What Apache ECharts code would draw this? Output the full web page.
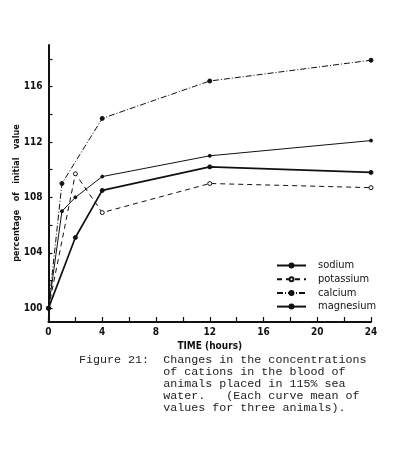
<!DOCTYPE html>
<html>
<head>
<meta charset="utf-8">
<script src="https://cdn.jsdelivr.net/npm/echarts@6/dist/echarts.min.js"></script>
<style>
  html, body { margin: 0; padding: 0; background: #fff; }
  #chart { width: 399px; height: 470px; }
</style>
</head>
<body>
<div id="chart"></div>
<script>
// time points (hours)
const times = [0, 1, 2, 4, 12, 24]
// percentage of initial value, null where no point
const sodium = [100, 107.0, 108.0, 109.5, 111.0, 112.1]
const potassium = [100, null, 109.7, 106.9, 109.0, 108.7]
const calcium = [100, 109.0, null, 113.7, 116.4, 117.9]
const magnesium = [100, null, 105.1, 108.5, 110.2, 109.8]

const yTicks = [100, 102, 104, 106, 108, 110, 112, 114, 116, 118]
const yLabels = [100, 104, 108, 112, 116]
const xTicks = [0, 2, 4, 6, 8, 10, 12, 14, 16, 18, 20, 22, 24]
const xLabels = [0, 4, 8, 12, 16, 20, 24]

const caption = [
  'Figure 21:  Changes in the concentrations',
  '            of cations in the blood of',
  '            animals placed in 115% sea',
  '            water.   (Each curve mean of',
  '            values for three animals).'
]

const toPairs = vals => times.map((t, i) => [t, vals[i]]).filter(p => p[1] !== null)

const axisFont = {
  color: '#111',
  fontFamily: 'DejaVu Sans Condensed',
  fontWeight: 'bold',
  fontSize: 10
}

const mkSeries = (name, vals, lineType, width, symbolFill, symbolSize) => ({
  name,
  type: 'line',
  data: toPairs(vals),
  symbol: 'circle',
  symbolSize,
  lineStyle: { color: '#111', width, type: lineType },
  itemStyle: { color: symbolFill, borderColor: '#111', borderWidth: 1 },
  emphasis: { disabled: true },
  animation: false
})

const chart = echarts.init(document.getElementById('chart'))
chart.setOption({
  backgroundColor: '#fff',
  animation: false,
  grid: { left: 48.5, right: 28, top: 45, bottom: 148 },
  xAxis: {
    type: 'value',
    min: 0,
    max: 24,
    name: 'TIME (hours)',
    nameLocation: 'middle',
    nameGap: 17,
    nameTextStyle: { ...axisFont, fontSize: 10 },
    axisLine: { lineStyle: { color: '#111', width: 2 } },
    axisTick: { inside: true, length: 5, customValues: xTicks, lineStyle: { color: '#111', width: 1.2 } },
    axisLabel: { ...axisFont, margin: 5, customValues: xLabels },
    splitLine: { show: false }
  },
  yAxis: {
    type: 'value',
    min: 99,
    max: 119,
    axisLine: { show: true, lineStyle: { color: '#111', width: 2 } },
    axisTick: { show: true, inside: true, length: 4, customValues: yTicks, lineStyle: { color: '#111', width: 1.2 } },
    axisLabel: { ...axisFont, margin: 6, customValues: yLabels },
    splitLine: { show: false }
  },
  legend: {
    orient: 'vertical',
    left: 276,
    top: 260,
    padding: 0,
    itemWidth: 29,
    itemHeight: 5,
    itemGap: 2.7,
    textStyle: { color: '#111', fontFamily: 'DejaVu Sans Condensed', fontSize: 11, lineHeight: 10, padding: [0, 0, 0, 7] },
    data: ['sodium', 'potassium', 'calcium', 'magnesium']
  },
  series: [
    mkSeries('sodium', sodium, 'solid', 1, '#111', 3),
    mkSeries('potassium', potassium, [5, 4], 1, '#fff', 4),
    mkSeries('calcium', calcium, [6, 2, 1, 2], 1, '#111', 4),
    mkSeries('magnesium', magnesium, 'solid', 1.7, '#111', 4)
  ],
  graphic: [
    {
      type: 'text',
      x: 17,
      y: 193,
      rotation: Math.PI / 2,
      style: {
        text: 'percentage   of   initial   value',
        fill: '#111',
        font: 'bold 9px "DejaVu Sans Condensed"',
        align: 'center',
        verticalAlign: 'middle'
      }
    },
    {
      type: 'text',
      left: 79,
      top: 354,
      style: {
        text: caption.join('\n'),
        fill: '#222',
        font: '11.7px "Liberation Mono"',
        lineHeight: 12
      }
    }
  ]
})
</script>
</body>
</html>
